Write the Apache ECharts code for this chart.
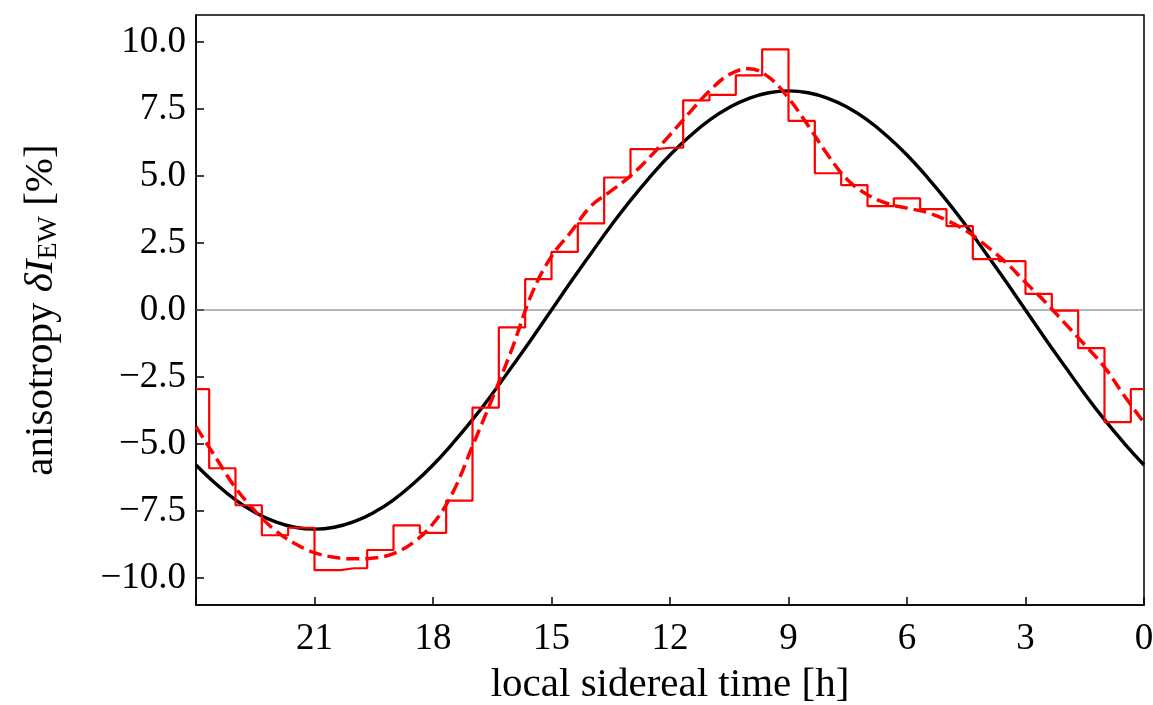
<!DOCTYPE html>
<html>
<head>
<meta charset="utf-8">
<script src="https://cdn.jsdelivr.net/npm/echarts@6/dist/echarts.min.js"></script>
<style>
html,body{margin:0;padding:0;background:#fff;}
#chart{width:1153px;height:705px;}
</style>
</head>
<body>
<div id="chart"></div>
<script>
// Tick labels
const xTicks = [21, 18, 15, 12, 9, 6, 3, 0];
const yTicks = [-10, -7.5, -5, -2.5, 0, 2.5, 5, 7.5, 10];

// Histogram (step) — bin centres [h] and values [%]
const binHours = [24, 23.333, 22.667, 22, 21.333, 20.667, 20, 19.333, 18.667, 18, 17.333, 16.667,
  16, 15.333, 14.667, 14, 13.333, 12.667, 12, 11.333, 10.667, 10, 9.333, 8.667,
  8, 7.333, 6.667, 6, 5.333, 4.667, 4, 3.333, 2.667, 2, 1.333, 0.667, 0];
const binValues = [-2.95, -5.9, -7.28, -8.4, -8.12, -9.7, -9.63, -8.95, -8.03, -8.31, -7.11, -3.64,
  -0.65, 1.15, 2.17, 3.23, 4.94, 6.0, 6.05, 7.82, 8.02, 8.75, 9.72, 7.05,
  5.1, 4.66, 3.87, 4.16, 3.76, 3.13, 1.9, 1.82, 0.6, -0.02, -1.42, -4.18, -2.95];

// Black model curve (read every half hour)
const modelHours = [24, 23.5, 23, 22.5, 22, 21.5, 21, 20.5, 20, 19.5, 19, 18.5, 18, 17.5, 17, 16.5, 16, 15.5,
  15, 14.5, 14, 13.5, 13, 12.5, 12, 11.5, 11, 10.5, 10, 9.5, 9, 8.5, 8, 7.5, 7, 6.5, 6, 5.5, 5, 4.5,
  4, 3.5, 3, 2.5, 2, 1.5, 1, 0.5, 0];
const modelValues = [-5.78, -6.48, -7.08, -7.55, -7.89, -8.1, -8.17, -8.1, -7.89, -7.55, -7.08, -6.48, -5.78,
  -4.97, -4.09, -3.13, -2.11, -1.07, 0, 1.07, 2.11, 3.13, 4.09, 4.97, 5.78, 6.48, 7.08, 7.55, 7.89, 8.1,
  8.17, 8.1, 7.89, 7.55, 7.08, 6.48, 5.78, 4.97, 4.09, 3.13, 2.11, 1.07, 0, -1.07, -2.11, -3.13, -4.09, -4.97, -5.78];

// Red dashed fit curve
const fitHours = modelHours;
const fitValues = [-4.35, -5.5, -6.63, -7.5, -8.21, -8.71, -9.05, -9.22, -9.28, -9.25, -9.08, -8.67, -7.97,
  -6.81, -5.07, -3.3, -1.45, 0.6, 2.0, 2.92, 3.88, 4.43, 5.0, 5.72, 6.53, 7.37, 8.17, 8.78, 9.0, 8.68,
  7.9, 6.87, 5.77, 4.85, 4.3, 3.97, 3.8, 3.64, 3.35, 2.95, 2.4, 1.78, 1.03, 0.3, -0.5, -1.3, -2.13, -3.2, -4.2];

const FONT = 'Liberation Serif';
const pair = (xs, ys) => xs.map((x, i) => [x, ys[i]]);
const fmtY = v => (v < 0 ? '\u2212' : '') + Math.abs(v).toFixed(1);

const chart = echarts.init(document.getElementById('chart'), null, {renderer: 'canvas'});
chart.setOption({
  animation: false,
  backgroundColor: '#ffffff',
  grid: {left: 196, right: 9, top: 15, bottom: 100, outerBoundsMode: 'none', containLabel: false,
    show: true, borderColor: '#000', borderWidth: 1.5, backgroundColor: 'transparent'},
  xAxis: {
    type: 'value', min: 0, max: 24, interval: 3, inverse: true,
    axisLine: {show: true, onZero: false, lineStyle: {color: '#000', width: 1.5}},
    axisTick: {show: true, inside: true, length: 8, lineStyle: {color: '#000', width: 1.5}},
    axisLabel: {
      color: '#000', fontFamily: FONT, fontSize: 37, margin: 16,
      formatter: v => (xTicks.indexOf(v) >= 0 ? String(v) : '')
    },
    splitLine: {show: false},
    name: 'local sidereal time [h]', nameLocation: 'middle', nameGap: 60,
    nameTextStyle: {color: '#000', fontFamily: FONT, fontSize: 41}
  },
  yAxis: {
    type: 'value', min: -11, max: 11,
    axisLine: {show: true, onZero: false, lineStyle: {color: '#000', width: 1.5}},
    axisTick: {show: true, inside: true, length: 8, customValues: yTicks, lineStyle: {color: '#000', width: 1.5}},
    axisLabel: {color: '#000', fontFamily: FONT, fontSize: 37, margin: 10, customValues: yTicks, formatter: fmtY},
    splitLine: {show: false},
    name: '{n|anisotropy }{i|\u03B4I}{s|EW}{n| [%]}',
    nameLocation: 'middle', nameRotate: 90, nameGap: 133,
    nameTextStyle: {
      color: '#000',
      rich: {
        n: {fontFamily: FONT, fontSize: 41, color: '#000'},
        i: {fontFamily: FONT, fontSize: 41, fontStyle: 'italic', color: '#000'},
        s: {fontFamily: FONT, fontSize: 28, color: '#000', padding: [16, 0, 0, 0]}
      }
    }
  },
  series: [
    {
      type: 'line', data: [[0, 0], [24, 0]], symbol: 'none', silent: true,
      lineStyle: {color: '#6e6e6e', width: 1}, z: 1
    },
    {
      type: 'line', data: pair(modelHours, modelValues), smooth: 0.5, symbol: 'none',
      lineStyle: {color: '#000', width: 3.4}, z: 2
    },
    {
      type: 'line', data: pair(binHours, binValues), step: 'middle', symbol: 'none',
      lineStyle: {color: '#ff0000', width: 2.2}, z: 3
    },
    {
      type: 'line', data: pair(fitHours, fitValues), smooth: 0.4, symbol: 'none',
      lineStyle: {color: '#ff0000', width: 3.5, type: [13, 6]}, z: 4
    }
  ]
});
</script>
</body>
</html>
